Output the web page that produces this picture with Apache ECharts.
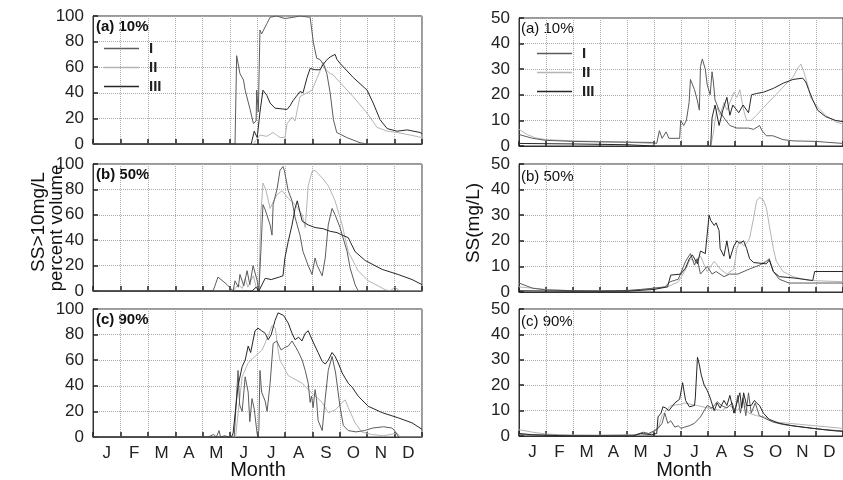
<!DOCTYPE html>
<html>
<head>
<meta charset="utf-8">
<title>SS percent volume / SS concentration</title>
<script src="https://cdn.jsdelivr.net/npm/echarts@6/dist/echarts.min.js"></script>
<style>
  html, body { margin: 0; padding: 0; background: #fff; }
  #chart { width: 843px; height: 480px; }
</style>
</head>
<body>
<div id="chart"></div>
<script>
// 月份标签（横轴）
var monthLabels = ['J', 'F', 'M', 'A', 'M', 'J', 'J', 'A', 'S', 'O', 'N', 'D'];
var seriesNames = ['I', 'II', 'III'];
var panelTags = ['(a) 10%', '(b) 50%', '(c) 90%'];

// 左列：SS>10mg/L 体积百分比，[月份, 值]
var leftA_I = [[0,0],[5.18,0],[5.24,69],[5.36,55],[5.49,50],[5.55,42],[5.73,27],[5.85,16],[5.95,18],[5.97,42],[6.03,25],[6.09,89],[6.15,86],[6.34,94],[6.46,99],[6.7,100],[7.0,98],[7.31,99],[7.55,100],[7.92,99],[8.04,79],[8.16,67],[8.28,66],[8.41,62],[8.53,55],[8.65,40],[8.77,19],[8.89,9],[9.26,5],[9.74,1],[9.99,0],[12,0]];
var leftA_II = [[0,0],[5.84,0],[6.09,7],[6.34,6],[6.57,9],[6.82,5],[7.0,5],[7.08,16],[7.26,21],[7.37,18],[7.55,37],[7.81,40],[7.99,42],[8.18,52],[8.28,57],[8.39,64],[8.5,58],[8.65,55],[8.76,54],[9.01,48],[9.49,37],[10.0,24],[10.36,13],[10.73,10],[11.09,9],[11.57,7],[12,5]];
var leftA_III = [[0,0],[5.77,0],[5.88,10],[5.99,5],[6.09,25],[6.2,42],[6.34,38],[6.46,32],[6.64,28],[7.08,27],[7.19,30],[7.3,34],[7.55,41],[7.66,40],[7.81,52],[7.92,59],[8.1,58],[8.28,58],[8.39,62],[8.54,66],[8.65,68],[8.83,70],[8.9,66],[9.01,63],[9.49,52],[10.0,42],[10.22,32],[10.47,19],[10.73,12],[11.09,10],[11.46,11],[11.93,9],[12,8]];

var leftB_I = [[0,0],[4.38,0],[4.56,11],[4.89,5],[5.11,0],[5.18,8],[5.3,3],[5.36,13],[5.5,4],[5.62,16],[5.72,5],[5.84,20],[5.99,8],[6.05,0],[6.12,30],[6.2,68],[6.28,64],[6.46,52],[6.53,44],[6.57,68],[6.72,81],[6.82,95],[6.93,98],[6.98,95],[7.12,79],[7.26,71],[7.37,58],[7.55,44],[7.66,31],[7.85,20],[7.99,13],[8.1,26],[8.18,20],[8.36,12],[8.47,26],[8.58,52],[8.72,65],[8.83,60],[9.01,50],[9.27,31],[9.38,18],[9.56,5],[9.67,0],[12,0]];
var leftB_II = [[0,0],[5.1,0],[5.3,5],[5.45,2],[5.55,10],[5.65,3],[5.75,8],[5.85,12],[5.95,3],[6.05,2],[6.12,60],[6.2,85],[6.3,80],[6.46,65],[6.57,70],[6.72,76],[6.9,79],[7.12,73],[7.37,68],[7.63,60],[7.74,50],[7.8,50],[7.85,83],[7.99,94],[8.1,95],[8.36,89],[8.58,83],[8.83,71],[9.09,52],[9.31,31],[9.67,16],[10.04,8],[10.4,4],[10.66,1],[10.84,0],[11.0,3],[11.2,0],[12,0]];
var leftB_III = [[0,0],[5.8,0],[5.95,3],[6.05,0],[6.28,10],[6.5,9],[6.8,11],[6.93,12],[7.0,26],[7.12,39],[7.26,52],[7.37,65],[7.45,71],[7.55,62],[7.63,55],[7.85,52],[8.1,50],[8.4,49],[8.65,47],[8.9,46],[9.09,44],[9.31,42],[9.4,38],[9.56,31],[9.93,24],[10.55,17],[11.13,13],[11.64,9],[12,5]];

var leftC_I = [[0,0],[4.2,0],[4.4,2],[4.5,0],[4.6,5],[4.65,0],[4.8,1],[4.95,0],[5.15,0],[5.29,52],[5.35,25],[5.44,20],[5.55,47],[5.66,35],[5.72,12],[5.8,30],[5.88,22],[5.99,2],[6.05,5],[6.09,52],[6.15,35],[6.28,28],[6.35,20],[6.46,42],[6.57,73],[6.7,75],[6.86,68],[7.0,70],[7.12,71],[7.26,75],[7.4,70],[7.48,67],[7.63,60],[7.74,52],[7.85,42],[7.92,27],[7.97,32],[8.03,23],[8.1,37],[8.15,30],[8.21,13],[8.36,5],[8.47,30],[8.58,52],[8.72,63],[8.85,50],[9.0,25],[9.13,9],[9.31,5],[9.6,4],[9.9,5],[10.2,7],[10.6,8],[10.9,7],[11.0,5],[11.15,0],[12,0]];
var leftC_II = [[0,0],[5.2,0],[5.3,20],[5.44,47],[5.66,58],[5.91,63],[6.17,68],[6.39,79],[6.53,87],[6.65,85],[6.75,68],[6.82,60],[6.95,55],[7.12,48],[7.37,45],[7.63,42],[7.85,37],[8.1,32],[8.36,27],[8.58,19],[8.83,21],[9.09,27],[9.2,29],[9.31,23],[9.56,11],[9.8,4],[10.16,2],[10.6,1],[11.1,3],[11.2,0],[12,0]];
var leftC_III = [[0,0],[5.05,0],[5.11,3],[5.29,40],[5.44,55],[5.55,60],[5.66,71],[5.75,66],[5.91,83],[6.02,85],[6.15,83],[6.28,81],[6.39,76],[6.5,80],[6.64,91],[6.75,97],[6.82,98],[6.95,95],[7.12,89],[7.26,81],[7.37,76],[7.5,78],[7.62,75],[7.74,81],[7.85,83],[7.99,76],[8.1,71],[8.21,66],[8.36,59],[8.47,57],[8.58,60],[8.72,66],[8.83,63],[8.94,58],[9.09,50],[9.2,46],[9.31,42],[9.45,39],[9.67,32],[10.04,24],[10.55,19],[11.13,15],[11.64,11],[12,6]];

// 右列：SS(mg/L)
var rightA_I = [[0,4.5],[0.5,3],[1,2.2],[2,1.8],[3,1.6],[4,1.5],[4.9,1.4],[5.1,1],[5.2,6],[5.3,3],[5.45,5.5],[5.55,3],[5.95,3],[5.99,10],[6.1,8],[6.2,10],[6.3,17],[6.35,26],[6.5,22],[6.6,18],[6.68,14],[6.72,31],[6.79,34],[6.9,30],[6.97,24],[7.08,20],[7.15,29],[7.2,25],[7.26,18],[7.41,14],[7.59,11],[7.81,8],[8.07,7],[8.5,7],[8.69,6.5],[8.91,8],[9.0,6],[9.16,4],[9.4,4],[9.78,2.5],[10.15,2],[11,1.8],[11.35,1.5],[12,1]];
var rightA_II = [[0,6.5],[0.3,4.5],[0.6,3.2],[1,2.5],[2,2],[3,1.8],[4,1.5],[4.9,1],[5.1,0],[7.1,0],[7.2,5],[7.26,10],[7.34,15],[7.45,12],[7.59,17],[7.7,14],[7.96,21],[8.07,19],[8.18,22],[8.32,14],[8.43,10],[8.6,10],[8.8,12],[9.05,15],[9.42,19],[9.78,23],[10.15,27],[10.33,30.5],[10.44,32],[10.55,29],[10.69,24],[10.8,19],[10.99,16],[11.35,12],[11.72,9.5],[12,8.5]];
var rightA_III = [[0,1],[2,0.8],[4,0.5],[5.0,0],[7.1,0],[7.15,11],[7.26,16],[7.41,8],[7.55,14],[7.7,19],[7.81,12],[7.92,16],[8.14,13],[8.3,16],[8.5,13],[8.61,20],[8.8,20.5],[9.05,21],[9.42,22.5],[9.78,24.5],[10.15,26],[10.51,26.5],[10.62,25],[10.73,22],[10.88,18],[11.06,14],[11.35,11.5],[11.72,10],[12,9.5]];

var rightB_I = [[0,3.5],[0.5,1.5],[1,0.8],[2,0.5],[3,0.4],[4,0.6],[4.5,1],[5,1.5],[5.4,2],[5.6,4],[5.9,5],[6.17,12],[6.35,15],[6.5,10.5],[6.6,13],[6.72,7],[6.97,10],[7.15,7],[7.3,8],[7.59,6],[7.8,7],[8.1,7],[8.54,9],[8.91,10.5],[9.16,12],[9.27,13],[9.42,8],[9.64,5],[10,3.5],[12,3.5]];
var rightB_II = [[0,2],[1,1],[2,0.5],[4,0.5],[4.5,0.8],[5,1.5],[5.5,2],[5.9,4],[6.13,8],[6.35,13],[6.5,12],[6.72,14],[6.97,8],[7.23,12],[7.45,9],[7.7,7],[7.96,9],[8.07,17],[8.18,20],[8.32,18],[8.43,19],[8.54,21],[8.69,29],[8.8,35.5],[8.91,37],[9.05,36],[9.16,33],[9.27,26],[9.42,17],[9.53,12],[9.78,8],[10.15,6],[10.73,4.5],[12,4]];
var rightB_III = [[0,0.5],[2,0.3],[4,0.3],[5.0,1],[5.5,2],[5.62,6.6],[5.99,7],[6.17,9.4],[6.31,13],[6.42,14.5],[6.61,11],[6.72,16],[6.9,15],[7.04,30],[7.1,28],[7.23,26],[7.3,27],[7.41,24],[7.45,17],[7.59,14],[7.7,20],[7.81,13],[7.96,18],[8.07,20],[8.18,19],[8.32,20],[8.43,17],[8.54,13],[8.69,11.5],[9.16,11],[9.27,12.5],[9.42,8],[9.64,6],[10.15,5.5],[10.88,4.5],[10.93,4.5],[10.95,8],[12,8]];

var rightC_I = [[0,0.5],[2,0.2],[4.3,0.3],[4.6,1.5],[4.8,1],[5.0,2],[5.15,3],[5.3,5],[5.4,9],[5.51,5],[5.62,6],[5.77,3.5],[5.9,4],[6.0,3],[6.13,3.5],[6.3,4],[6.5,5],[6.72,7.5],[6.97,12],[7.15,11],[7.34,13.5],[7.5,12],[7.7,11],[7.9,13],[8.0,9],[8.1,16],[8.2,9],[8.3,15],[8.4,8],[8.5,17],[8.6,9],[8.75,13],[8.9,8],[9.1,7],[9.4,5.5],[9.8,4.5],[10.5,3.5],[11.3,2.5],[12,2]];
var rightC_II = [[0,2.5],[0.5,1.5],[1,0.8],[1.5,0.5],[3,0.3],[4.3,0.5],[4.9,1],[5.15,3],[5.3,8],[5.45,10],[5.62,12],[6.0,12.5],[6.13,13],[6.6,12],[7.0,11],[7.5,10],[7.8,12],[8.1,10],[8.3,14],[8.5,9],[8.8,8],[9.1,7.5],[9.5,5.5],[10,5],[11,4],[12,3]];
var rightC_III = [[0,1],[0.5,0.5],[1,0.3],[2,0],[4.2,0],[4.5,1],[4.9,0.5],[5.1,1],[5.15,7.5],[5.26,9],[5.33,11.5],[5.44,11],[5.55,10],[5.77,13],[5.95,14.5],[6.06,21],[6.17,14],[6.31,11.5],[6.5,12],[6.53,15],[6.61,31],[6.68,28],[6.75,24],[6.86,20],[6.97,18],[7.08,15],[7.23,10],[7.34,13],[7.45,11],[7.59,14],[7.7,12],[7.81,16],[7.96,9],[8.07,13],[8.18,17],[8.25,11],[8.32,17],[8.43,12],[8.6,12],[8.72,14],[8.8,13],[8.91,12],[9.05,9],[9.27,6.5],[9.64,5],[10.15,4],[10.88,3],[11.72,2],[12,1.8]];

var panelData = [
  [leftA_I, leftA_II, leftA_III],
  [leftB_I, leftB_II, leftB_III],
  [leftC_I, leftC_II, leftC_III],
  [rightA_I, rightA_II, rightA_III],
  [rightB_I, rightB_II, rightB_III],
  [rightC_I, rightC_II, rightC_III]
];

var lineColors = ['#5c5c5c', '#b4b4b4', '#262626'];
var FONT = "'Liberation Sans', Arial, Helvetica, sans-serif";

// 六个子图的位置
var grids = [
  { left: 93, right: 421, top: 16, height: 128 },
  { left: 93, right: 421, top: 164, height: 127 },
  { left: 93, right: 421, top: 309, height: 128 },
  { left: 519, right: -5, top: 18, height: 128 },
  { left: 519, right: -5, top: 164, height: 128 },
  { left: 519, right: -5, top: 309, height: 127 }
];
grids.forEach(function (g) {
  g.show = true;
  g.borderColor = '#333';
  g.borderWidth = 1;
  g.backgroundColor = 'transparent';
});

var xAxes = [], yAxes = [], series = [];
for (var gi = 0; gi < 6; gi++) {
  xAxes.push({
    type: 'value', gridIndex: gi, min: 0, max: 12, interval: 1,
    axisLine: { show: true, onZero: false, lineStyle: { color: '#333' } },
    axisTick: { show: true, inside: true, length: 5, lineStyle: { color: '#222', width: 1.5 } },
    axisLabel: { show: false },
    splitLine: { show: true, lineStyle: { color: '#aaa', type: 'dotted', width: 1 } }
  });
  var isLeft = gi < 3;
  yAxes.push({
    type: 'value', gridIndex: gi, min: 0,
    max: isLeft ? 100 : 50, interval: isLeft ? 20 : 10,
    axisLine: { show: true, lineStyle: { color: '#333' } },
    axisTick: { show: true, inside: true, length: 5, lineStyle: { color: '#222', width: 1.5 } },
    axisLabel: { fontSize: 17, color: '#222', margin: 9, fontFamily: FONT },
    splitLine: { show: true, lineStyle: { color: '#aaa', type: 'dotted', width: 1 } }
  });
  for (var si = 0; si < 3; si++) {
    series.push({
      name: seriesNames[si], type: 'line',
      xAxisIndex: gi, yAxisIndex: gi,
      data: panelData[gi][si],
      symbol: 'none', smooth: false,
      lineStyle: { color: lineColors[si], width: 1 },
      itemStyle: { color: lineColors[si] },
      z: si === 1 ? 2 : 3
    });
  }
}
// 底部两个子图的月份标签
[2, 5].forEach(function (gi) {
  xAxes.push({
    type: 'category', gridIndex: gi, data: monthLabels, boundaryGap: true, position: 'bottom',
    axisLine: { show: false }, axisTick: { show: false }, splitLine: { show: false },
    axisLabel: { interval: 0, fontSize: 17, color: '#222', margin: 8, fontFamily: FONT }
  });
});

// 图例只画线段，不画圆点
function legendAt(left, top) {
  return {
    data: seriesNames, orient: 'vertical', left: left, top: top,
    icon: 'rect', itemWidth: 35, itemHeight: 1.5, itemGap: 4,
    selectedMode: false,
    textStyle: { fontSize: 15, fontWeight: 'bold', color: '#222', fontFamily: FONT, padding: [0, 0, 0, 5] }
  };
}

var graphics = [];
panelTags.forEach(function (t, i) {
  var ys = [27, 175, 320];
  graphics.push({ type: 'text', x: 96, y: ys[i], style: { text: t, fontSize: 15, fontWeight: 'bold', fill: '#111', fontFamily: FONT, verticalAlign: 'middle' } });
  graphics.push({ type: 'text', x: 521, y: ys[i] + 2, style: { text: t, fontSize: 15, fill: '#111', fontFamily: FONT, verticalAlign: 'middle' } });
});
// 纵轴标题
graphics.push({ type: 'text', x: 39, y: 222, rotation: Math.PI / 2, style: { text: 'SS>10mg/L', fontSize: 19, fill: '#111', fontFamily: FONT, align: 'center', verticalAlign: 'middle' } });
graphics.push({ type: 'text', x: 57, y: 228, rotation: Math.PI / 2, style: { text: 'percent volume', fontSize: 18.5, fill: '#111', fontFamily: FONT, align: 'center', verticalAlign: 'middle' } });
graphics.push({ type: 'text', x: 474, y: 223, rotation: Math.PI / 2, style: { text: 'SS(mg/L)', fontSize: 19, fill: '#111', fontFamily: FONT, align: 'center', verticalAlign: 'middle' } });
// 横轴标题
graphics.push({ type: 'text', x: 258, y: 470, style: { text: 'Month', fontSize: 20, fill: '#111', fontFamily: FONT, align: 'center', verticalAlign: 'middle' } });
graphics.push({ type: 'text', x: 684, y: 470, style: { text: 'Month', fontSize: 20, fill: '#111', fontFamily: FONT, align: 'center', verticalAlign: 'middle' } });

var myChart = echarts.init(document.getElementById('chart'), null, { renderer: 'canvas' });
myChart.setOption({
  animation: false,
  backgroundColor: '#fff',
  textStyle: { fontFamily: FONT },
  grid: grids,
  xAxis: xAxes,
  yAxis: yAxes,
  legend: [legendAt(99, 36), legendAt(532, 41)],
  graphic: graphics,
  series: series
});
</script>
</body>
</html>
